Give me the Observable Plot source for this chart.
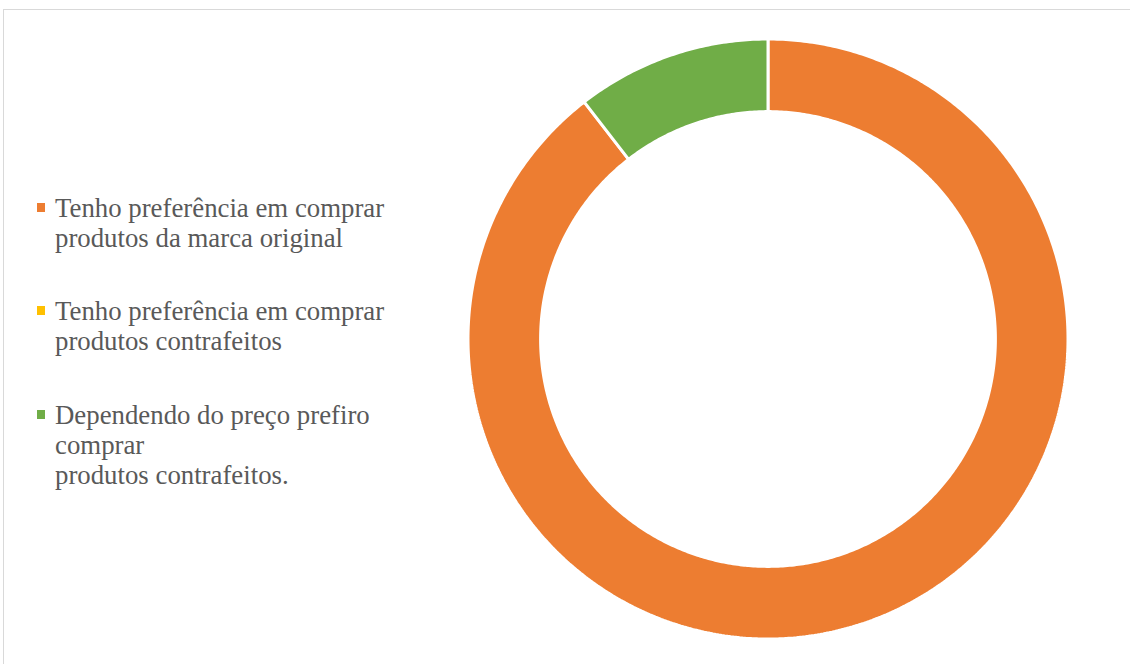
<!DOCTYPE html>
<html>
<head>
<meta charset="utf-8">
<script src="https://cdn.jsdelivr.net/npm/d3@7"></script>
<script src="https://cdn.jsdelivr.net/npm/@observablehq/plot@0.6"></script>
<style>
  html, body { margin: 0; padding: 0; background: #fff; }
  #wrap { position: relative; width: 1130px; height: 664px; overflow: hidden; }
  #frame { position: absolute; left: 3px; top: 9px; width: 1200px; height: 700px; border: 1px solid #d9d9d9; box-sizing: border-box; }
  #chart { position: absolute; left: 0; top: 0; }
  #legend { position: absolute; left: 37px; top: 0; font-family: "Liberation Serif", "Times New Roman", serif; font-size: 26.8px; line-height: 30px; color: #595959; }
  .item { position: absolute; left: 0; white-space: nowrap; }
  .sw { position: absolute; left: 0; width: 8px; height: 9px; }
  .lbl { position: absolute; left: 18px; top: 0; }
</style>
</head>
<body>
<div id="wrap">
  <div id="frame"></div>
  <div id="chart"></div>
  <div id="legend"></div>
</div>
<script>
const categories = [
  "Tenho preferência em comprar\nprodutos da marca original",
  "Tenho preferência em comprar\nprodutos contrafeitos",
  "Dependendo do preço prefiro\ncomprar\nprodutos contrafeitos."
];
const values = [89.5, 0, 10.5];
const colors = ["#ED7D31", "#FFC000", "#70AD47"];
const innerRatio = 0.758;

// Build annulus sector band data from the pie angles
const pie = d3.pie().sort(null).value(d => d)(values);
const band = [];
pie.forEach((p, i) => {
  if (p.endAngle - p.startAngle <= 0) return;
  const n = Math.max(2, Math.ceil((p.endAngle - p.startAngle) / 0.01));
  for (let k = 0; k <= n; k++) {
    const a = p.startAngle + (p.endAngle - p.startAngle) * k / n;
    band.push({
      cat: categories[i],
      x1: Math.sin(a), y1: Math.cos(a),
      x2: innerRatio * Math.sin(a), y2: innerRatio * Math.cos(a)
    });
  }
});

const chart = Plot.plot({
  width: 1130,
  height: 664,
  margin: 0,
  x: {domain: [-1, 1], range: [468, 1068], axis: null},
  y: {domain: [-1, 1], range: [639, 39], axis: null},
  color: {domain: categories, range: colors},
  marks: [
    Plot.area(band, {x1: "x1", y1: "y1", x2: "x2", y2: "y2", z: "cat", fill: "cat", stroke: "white", strokeWidth: 3, strokeLinejoin: "miter"})
  ]
});
chart.style.background = "transparent";
document.getElementById("chart").appendChild(chart);

// Legend
const legend = document.getElementById("legend");
const tops = [193, 296, 400];
categories.forEach((c, i) => {
  const it = document.createElement("div");
  it.className = "item";
  it.style.top = tops[i] + "px";
  const sw = document.createElement("div");
  sw.className = "sw";
  sw.style.background = colors[i];
  sw.style.top = "10px";
  const lb = document.createElement("div");
  lb.className = "lbl";
  lb.innerHTML = c.split("\n").join("<br>");
  it.appendChild(sw);
  it.appendChild(lb);
  legend.appendChild(it);
});
</script>
</body>
</html>
